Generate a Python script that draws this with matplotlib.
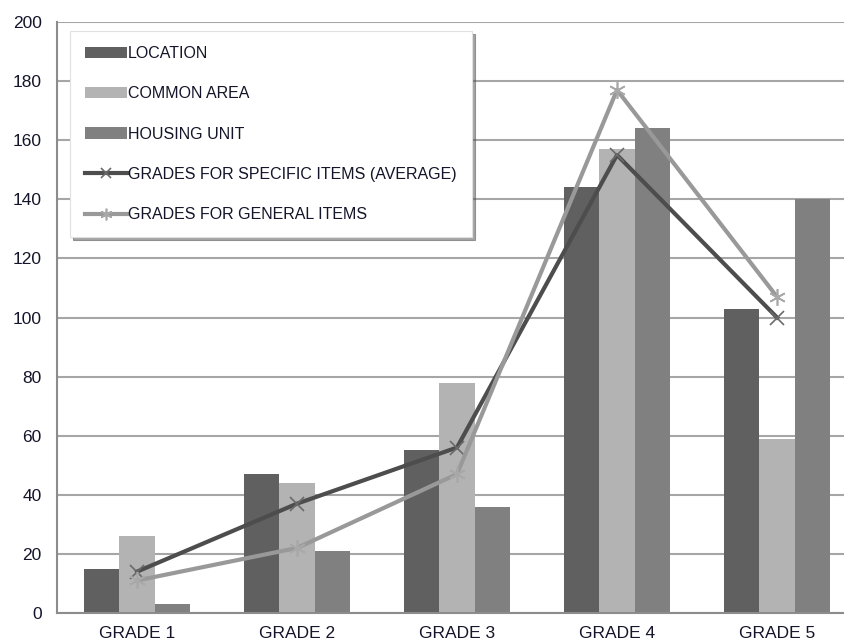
import numpy as np
import matplotlib.pyplot as plt

# data
grades = ['GRADE 1', 'GRADE 2', 'GRADE 3', 'GRADE 4', 'GRADE 5']
location = [15, 47, 55, 144, 103]
common_area = [26, 44, 78, 157, 59]
housing_unit = [3, 21, 36, 164, 140]
specific_avg = [14, 37, 56, 155, 100]
general_items = [11, 22, 47, 177, 107]

plt.rcParams['font.family'] = ['Liberation Sans', 'DejaVu Sans']

fig = plt.figure(figsize=(8.45, 6.43), dpi=100)
ax = fig.add_axes([57 / 845, 30 / 643, 800 / 845, 591 / 643])

x = np.arange(len(grades))
w = 0.22
b1 = ax.bar(x - w, location, w, color='#606060', label='LOCATION', zorder=2)
b2 = ax.bar(x, common_area, w, color='#b3b3b3', label='COMMON AREA', zorder=2)
b3 = ax.bar(x + w, housing_unit, w, color='#808080', label='HOUSING UNIT', zorder=2)

l1, = ax.plot(x, specific_avg, color='#4d4d4d', lw=3, marker='x', ms=10,
              mec='#6a6a6a', mew=1.2, label='GRADES FOR SPECIFIC ITEMS (AVERAGE)', zorder=3)
l2, = ax.plot(x, general_items, color='#999999', lw=3, marker=(6, 2, 0), ms=12,
              mec='#a8a8a8', mew=1.2, label='GRADES FOR GENERAL ITEMS', zorder=3)

ax.set_xlim(-0.5, 4.5)
ax.set_ylim(0, 200)
ax.set_yticks(range(0, 201, 20))
ax.set_xticks(x)
ax.set_xticklabels(grades)
ax.tick_params(length=0, labelsize=12.5, labelcolor='#14142a')
ax.tick_params(axis='y', pad=11)
ax.tick_params(axis='x', pad=9)
ax.yaxis.grid(True, color='#a6a6a6', lw=1.5, zorder=0)
ax.set_axisbelow(True)
for s in ['top', 'right']:
    ax.spines[s].set_visible(False)
for s in ['left', 'bottom']:
    ax.spines[s].set_color('#8c8c8c')
    ax.spines[s].set_linewidth(1.5)

leg = ax.legend(handles=[b1, b2, b3, l1, l2], loc='upper left',
                bbox_to_anchor=(70 / 845, 1 - 31 / 643), bbox_transform=fig.transFigure,
                fontsize=11.5, frameon=True, fancybox=False, shadow=True,
                labelspacing=1.58, handlelength=2.6, handletextpad=0.08,
                borderpad=0.95, borderaxespad=0, markerscale=0.7)
leg.get_frame().set_edgecolor('#e0e0e0')
leg.get_frame().set_linewidth(0.8)
for t in leg.get_texts():
    t.set_color('#14142a')

fig.savefig('out.png', dpi=100)
